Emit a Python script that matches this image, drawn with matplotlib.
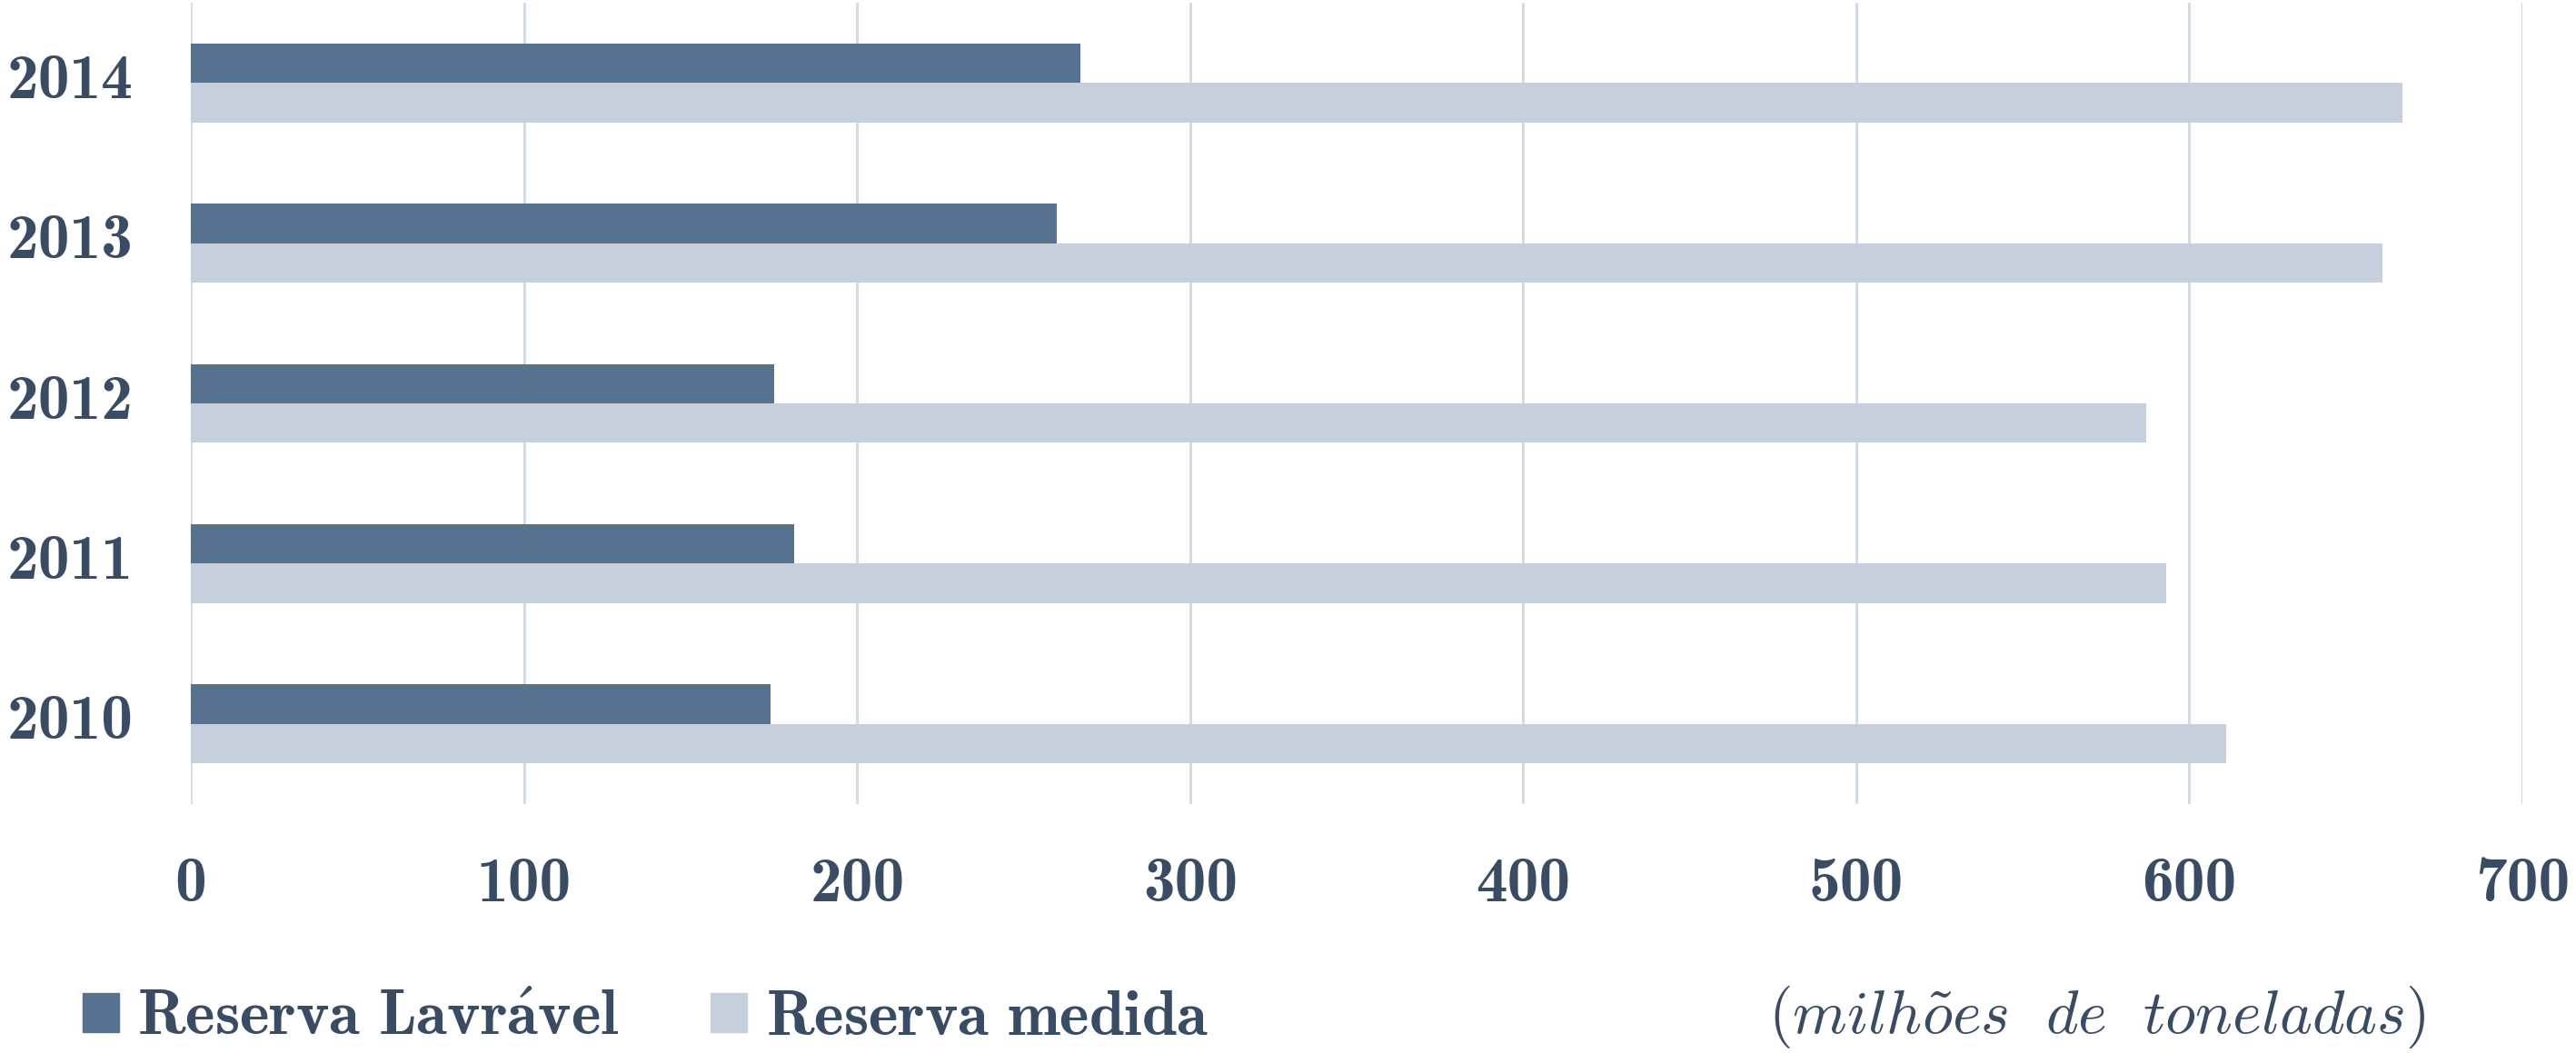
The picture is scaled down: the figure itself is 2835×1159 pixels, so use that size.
import numpy as np
import matplotlib.pyplot as plt
from matplotlib.patches import Patch
from matplotlib.transforms import ScaledTranslation

plt.rcParams['mathtext.fontset'] = 'cm'
plt.rcParams['axes.unicode_minus'] = False

# Data (milhões de toneladas)
anos = ['2010', '2011', '2012', '2013', '2014']
reserva_lavravel = [174, 181, 175, 260, 267]
reserva_medida = [611, 593, 587, 658, 664]

cor_escura = '#57728F'
cor_clara = '#C6D0DC'
cor_texto = '#3A4C63'
cor_grade = '#D3DBE5'

fig = plt.figure(figsize=(28.35, 11.59), dpi=100)
ax = fig.add_axes([0.0741, 0.2364, 0.9051, 0.7610])

y = np.arange(len(anos))
h = 0.246
ax.barh(y + h / 2, reserva_lavravel, height=h, color=cor_escura, zorder=3)
ax.barh(y - h / 2, reserva_medida, height=h, color=cor_clara, zorder=3)

ax.set_xlim(0, 700)
ax.set_ylim(-0.5, 4.5)
ax.set_xticks(range(0, 701, 100))
ax.set_yticks(y)
ax.set_yticklabels(anos)

ax.grid(axis='x', color=cor_grade, linewidth=2.2, zorder=0)
ax.set_axisbelow(True)
for s in ax.spines.values():
    s.set_visible(False)

ax.tick_params(axis='both', length=0, labelsize=50, labelcolor=cor_texto)
ax.tick_params(axis='x', pad=42)
ax.tick_params(axis='y', pad=46)
for lbl in ax.get_xticklabels() + ax.get_yticklabels():
    lbl.set_family('cmb10')
# year labels sit slightly above the bar pair centre
up = ScaledTranslation(0, 0.08, fig.dpi_scale_trans)
for lbl in ax.get_yticklabels():
    lbl.set_transform(lbl.get_transform() + up)

# Legend
handles = [Patch(color=cor_escura), Patch(color=cor_clara)]
labels = [r'$\mathbf{Reserva\ Lavr\acute{a}vel}$', r'$\mathbf{Reserva\ medida}$']
fig.legend(handles, labels, loc='center left', bbox_to_anchor=(0.032, 0.034),
           ncol=2, frameon=False, fontsize=50, labelcolor=cor_texto,
           handlelength=0.58, handleheight=0.58, handletextpad=0.29,
           columnspacing=1.45, borderpad=0, borderaxespad=0)

fig.text(0.9414, 0.034, r'$(\mathit{milh\tilde{o}es\ \ de\ \ toneladas})$',
         ha='right', va='center', fontsize=49, color=cor_texto)

fig.savefig('out.png', dpi=100)
